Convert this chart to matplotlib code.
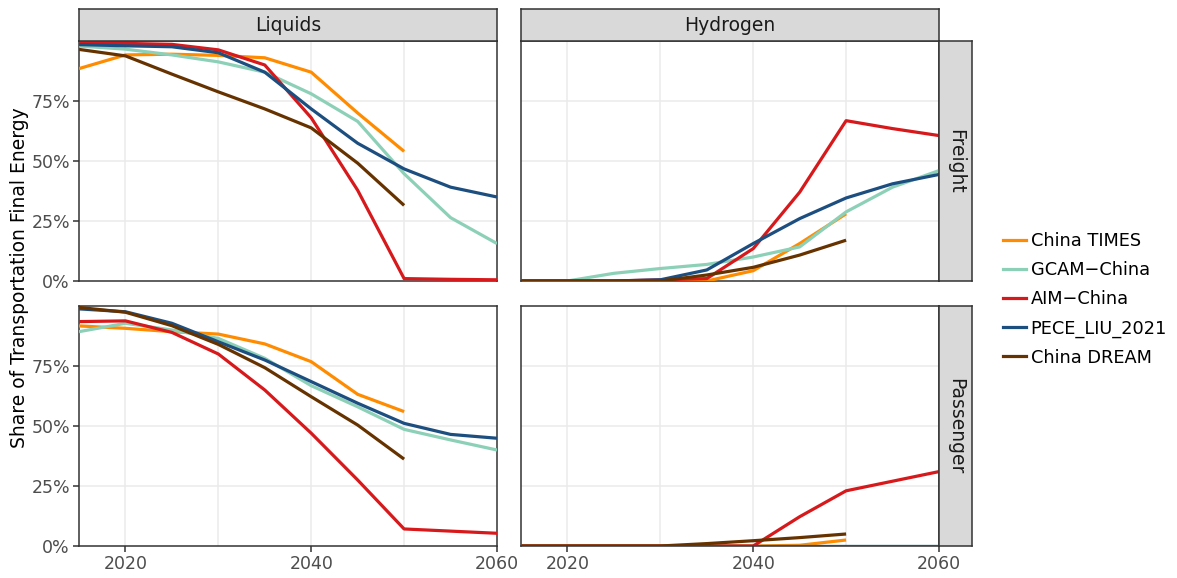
import matplotlib
matplotlib.use("Agg")
import matplotlib.pyplot as plt
import numpy as np
from matplotlib.lines import Line2D

plt.rcParams['font.family'] = ['DejaVu Sans']

years = [2015, 2020, 2025, 2030, 2035, 2040, 2045, 2050, 2055, 2060]
models = ["China TIMES", "GCAM\u2212China", "AIM\u2212China", "PECE_LIU_2021", "China DREAM"]
colors = ["#FF8C00", "#8DD0B8", "#D7191C", "#1D4E80", "#663300"]

# Liquids - Freight
liq_frt_times = [0.885, 0.942, 0.945, 0.940, 0.930, 0.870, 0.700, 0.540]
liq_frt_gcam = [0.979, 0.966, 0.942, 0.913, 0.870, 0.780, 0.665, 0.447, 0.264, 0.156]
liq_frt_aim = [0.990, 0.990, 0.986, 0.963, 0.900, 0.680, 0.378, 0.010, 0.007, 0.005]
liq_frt_pece = [0.985, 0.980, 0.976, 0.951, 0.870, 0.717, 0.574, 0.467, 0.391, 0.350]
liq_frt_dream = [0.965, 0.938, 0.862, 0.788, 0.717, 0.638, 0.491, 0.315]

# Hydrogen - Freight
h2_frt_times = [0.0, 0.0, 0.0, 0.0, 0.0, 0.043, 0.156, 0.280]
h2_frt_gcam = [0.0, 0.0, 0.032, 0.052, 0.069, 0.100, 0.142, 0.288, 0.391, 0.460]
h2_frt_aim = [0.0, 0.0, 0.0, 0.005, 0.010, 0.135, 0.370, 0.668, 0.635, 0.606]
h2_frt_pece = [0.0, 0.0, 0.0, 0.005, 0.046, 0.156, 0.260, 0.346, 0.405, 0.444]
h2_frt_dream = [0.0, 0.0, 0.0, 0.0, 0.025, 0.057, 0.108, 0.170]

# Liquids - Passenger
liq_pas_times = [0.917, 0.907, 0.893, 0.883, 0.842, 0.768, 0.632, 0.560]
liq_pas_gcam = [0.893, 0.928, 0.900, 0.865, 0.782, 0.668, 0.580, 0.486, 0.442, 0.400]
liq_pas_aim = [0.935, 0.938, 0.890, 0.800, 0.650, 0.470, 0.275, 0.071, 0.062, 0.053]
liq_pas_pece = [0.988, 0.976, 0.928, 0.851, 0.775, 0.685, 0.595, 0.511, 0.465, 0.449]
liq_pas_dream = [0.994, 0.974, 0.918, 0.840, 0.743, 0.622, 0.504, 0.362]

# Hydrogen - Passenger
h2_pas_times = [0.0, 0.0, 0.0, 0.0, 0.0, 0.0, 0.003, 0.025]
h2_pas_gcam = [0.0, 0.0, 0.0, 0.0, 0.0, 0.0, 0.0, 0.0, 0.0, 0.0]
h2_pas_aim = [0.0, 0.0, 0.0, 0.0, 0.0, 0.0, 0.122, 0.230, 0.270, 0.310]
h2_pas_pece = [0.0, 0.0, 0.0, 0.0, 0.0, 0.0, 0.0, 0.0, 0.0, 0.0]
h2_pas_dream = [0.0, 0.0, 0.0, 0.0, 0.010, 0.022, 0.035, 0.050]

panels = {
    (0, 0): [liq_frt_times, liq_frt_gcam, liq_frt_aim, liq_frt_pece, liq_frt_dream],
    (0, 1): [h2_frt_times, h2_frt_gcam, h2_frt_aim, h2_frt_pece, h2_frt_dream],
    (1, 0): [liq_pas_times, liq_pas_gcam, liq_pas_aim, liq_pas_pece, liq_pas_dream],
    (1, 1): [h2_pas_times, h2_pas_gcam, h2_pas_aim, h2_pas_pece, h2_pas_dream],
}
col_labels = ["Liquids", "Hydrogen"]
row_labels = ["Freight", "Passenger"]

W, H = 1177, 578
fig = plt.figure(figsize=(W / 100, H / 100), dpi=100)

def fr(x0, y0, x1, y1):
    return [x0 / W, 1 - y1 / H, (x1 - x0) / W, (y1 - y0) / H]

xs = [(79, 497), (521, 939)]
ys = [(41, 281), (306, 546)]
border = "#333333"
strip_bg = "#D9D9D9"
grid_c = "#EBEBEB"
FS_TICK = 12.5
FS_STRIP = 13.5

for r in range(2):
    for c in range(2):
        ax = fig.add_axes(fr(xs[c][0], ys[r][0], xs[c][1], ys[r][1]))
        for i, series in enumerate(panels[(r, c)]):
            ax.plot(years[:len(series)], series, color=colors[i], lw=2.3,
                    solid_capstyle='butt', zorder=3 + i)
        ax.set_xlim(2015, 2060)
        ax.set_ylim(0, 1)
        for gx in [2020, 2030, 2040, 2050]:
            ax.axvline(gx, color=grid_c, lw=1.1, zorder=1)
        for gy in [0.25, 0.5, 0.75]:
            ax.axhline(gy, color=grid_c, lw=1.1, zorder=1)
        ax.set_xticks([2020, 2040, 2060])
        ax.set_yticks([0, 0.25, 0.5, 0.75])
        ax.set_yticklabels(["0%", "25%", "50%", "75%"])
        for s in ax.spines.values():
            s.set_color(border)
            s.set_linewidth(1.1)
        ax.tick_params(axis='both', colors=border, labelcolor="#4D4D4D",
                       labelsize=FS_TICK, length=4, width=1.1, pad=2.5)
        if r == 0:
            ax.tick_params(axis='x', bottom=False, labelbottom=False)
        if c == 1:
            ax.tick_params(axis='y', left=False, labelleft=False)

        if r == 0:
            sax = fig.add_axes(fr(xs[c][0], 9, xs[c][1], 41))
            sax.set_facecolor(strip_bg)
            sax.set_xticks([]); sax.set_yticks([])
            for s in sax.spines.values():
                s.set_color(border); s.set_linewidth(1.1)
            sax.text(0.5, 0.48, col_labels[c], ha='center', va='center',
                     fontsize=FS_STRIP, color="#1A1A1A", transform=sax.transAxes)
        if c == 1:
            sax = fig.add_axes(fr(939, ys[r][0], 972, ys[r][1]))
            sax.set_facecolor(strip_bg)
            sax.set_xticks([]); sax.set_yticks([])
            for s in sax.spines.values():
                s.set_color(border); s.set_linewidth(1.1)
            sax.text(0.5, 0.5, row_labels[r], ha='center', va='center',
                     rotation=-90, fontsize=FS_STRIP, color="#1A1A1A",
                     transform=sax.transAxes)

fig.text(20 / W, 1 - 277.5 / H, "Share of Transportation Final Energy",
         rotation=90, ha='center', va='center', fontsize=FS_STRIP, color="black")

handles = [Line2D([0], [0], color=colors[i], lw=2.3) for i in range(len(models))]
fig.legend(handles, models, loc='center left', bbox_to_anchor=(1003 / W, 1 - 299.5 / H),
           frameon=False, fontsize=12.8, handlelength=1.3, handletextpad=0.25,
           labelspacing=0.62, borderaxespad=0, borderpad=0)

fig.savefig("out.png", dpi=100)
